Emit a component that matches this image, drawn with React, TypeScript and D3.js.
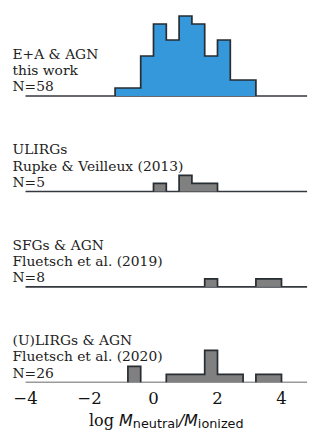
import React from "react";
import * as d3 from "d3";

// bin edges (log M_neutral / M_ionized), width 0.4
const binEdges = [-1.2, -0.8, -0.4, 0, 0.4, 0.8, 1.2, 1.6, 2.0, 2.4, 2.8, 3.2, 3.6, 4.0];

// counts per bin, one array per sample
const eaAgnCounts = [1, 1, 5, 9, 7, 10, 9, 5, 7, 2, 2, 0, 0];
const ulirgCounts = [0, 0, 0, 1, 0, 2, 1, 1, 0, 0, 0, 0, 0];
const sfgCounts = [0, 0, 0, 0, 0, 0, 0, 1, 0, 0, 0, 1, 1];
const uLirgAgnCounts = [0, 2, 0, 0, 1, 1, 1, 4, 1, 1, 0, 1, 1];

const panelLabels = [
  ["E+A & AGN", "this work", "N=58"],
  ["ULIRGs", "Rupke & Veilleux (2013)", "N=5"],
  ["SFGs & AGN", "Fluetsch et al. (2019)", "N=8"],
  ["(U)LIRGs & AGN", "Fluetsch et al. (2020)", "N=26"],
];
const panelCounts = [eaAgnCounts, ulirgCounts, sfgCounts, uLirgAgnCounts];
const panelFills = ["#3498db", "#808080", "#808080", "#808080"];

const W = 332;
const H = 443;
const edgeColor = "#262d33";

// split bins into runs of non-zero counts
function runs(counts) {
  const out = [];
  let start = -1;
  counts.forEach((c, i) => {
    if (c > 0 && start < 0) start = i;
    if ((c === 0 || i === counts.length - 1) && start >= 0) {
      const end = c === 0 ? i : i + 1;
      out.push([start, end]);
      start = -1;
    }
  });
  return out;
}

const Panel = ({ counts, labels, fill, base, x, last }) => {
  const y = d3.scaleLinear().domain([0, 1]).range([base, base - 8]);
  const [x0, x1] = x.domain();
  const area = d3
    .area()
    .curve(d3.curveStepAfter)
    .x((d) => x(d[0]))
    .y0(base)
    .y1((d) => y(d[1]));
  const line = d3
    .line()
    .x((d) => x(d[0]))
    .y((d) => y(d[1]));
  return (
    <g>
      <line
        x1={x(x0)}
        x2={x(x1)}
        y1={base}
        y2={base}
        stroke={last ? "#9a9a9a" : "#33393e"}
        strokeWidth={1.6}
      />
      {runs(counts).map(([a, b], k) => {
        const pts = [];
        for (let i = a; i < b; i++) pts.push([binEdges[i], counts[i]]);
        pts.push([binEdges[b], counts[b - 1]]);
        // step outline, open at the bottom
        const stepPts = [[binEdges[a], 0]];
        for (let i = a; i < b; i++) {
          stepPts.push([binEdges[i], counts[i]]);
          stepPts.push([binEdges[i + 1], counts[i]]);
        }
        stepPts.push([binEdges[b], 0]);
        return (
          <g key={k}>
            <path d={area(pts)} fill={fill} />
            <path d={line(stepPts)} fill="none" stroke={edgeColor} strokeWidth={1.7} />
          </g>
        );
      })}
      {labels.map((t, i) => (
        <text
          key={i}
          x={12.5}
          y={base - 4.6 - (labels.length - 1 - i) * 16.3}
          fontFamily="DejaVu Serif"
          fontSize={13.8}
          fill="#222"
        >
          {t}
        </text>
      ))}
    </g>
  );
};

const App = () => {
  const x = d3.scaleLinear().domain([-4, 4.8]).range([25.5, 307.1]);
  const baseY = d3.scaleLinear().domain([0, 3]).range([96, 382.3]);
  const ticks = x.ticks(5);
  const fmt = d3.format("d");
  const lastBase = baseY(3);
  return (
    <svg width={W} height={H} style={{ position: "absolute", left: 0, top: 0, background: "#fff" }}>
      {panelCounts.map((c, i) => (
        <Panel
          key={i}
          counts={c}
          labels={panelLabels[i]}
          fill={panelFills[i]}
          base={baseY(i)}
          x={x}
          last={i === 3}
        />
      ))}
      {ticks.map((t) => (
        <text
          key={t}
          x={x(t)}
          y={lastBase + 21.8}
          textAnchor="middle"
          fontFamily="DejaVu Serif"
          fontSize={16.5}
          fill="#111"
        >
          {fmt(t)}
        </text>
      ))}
      <text x={x(0.4)} y={425.5} textAnchor="middle" fill="#111" fontSize={16}>
        <tspan fontFamily="DejaVu Serif">log </tspan>
        <tspan fontFamily="DejaVu Sans" fontStyle="italic">M</tspan>
        <tspan fontFamily="DejaVu Sans" fontSize={12.8} dy={2.5}>neutral</tspan>
        <tspan fontFamily="DejaVu Sans" fontStyle="italic" dy={-2.5}>/M</tspan>
        <tspan fontFamily="DejaVu Sans" fontSize={12.8} dy={2.5}>ionized</tspan>
      </text>
    </svg>
  );
};

export default App;
